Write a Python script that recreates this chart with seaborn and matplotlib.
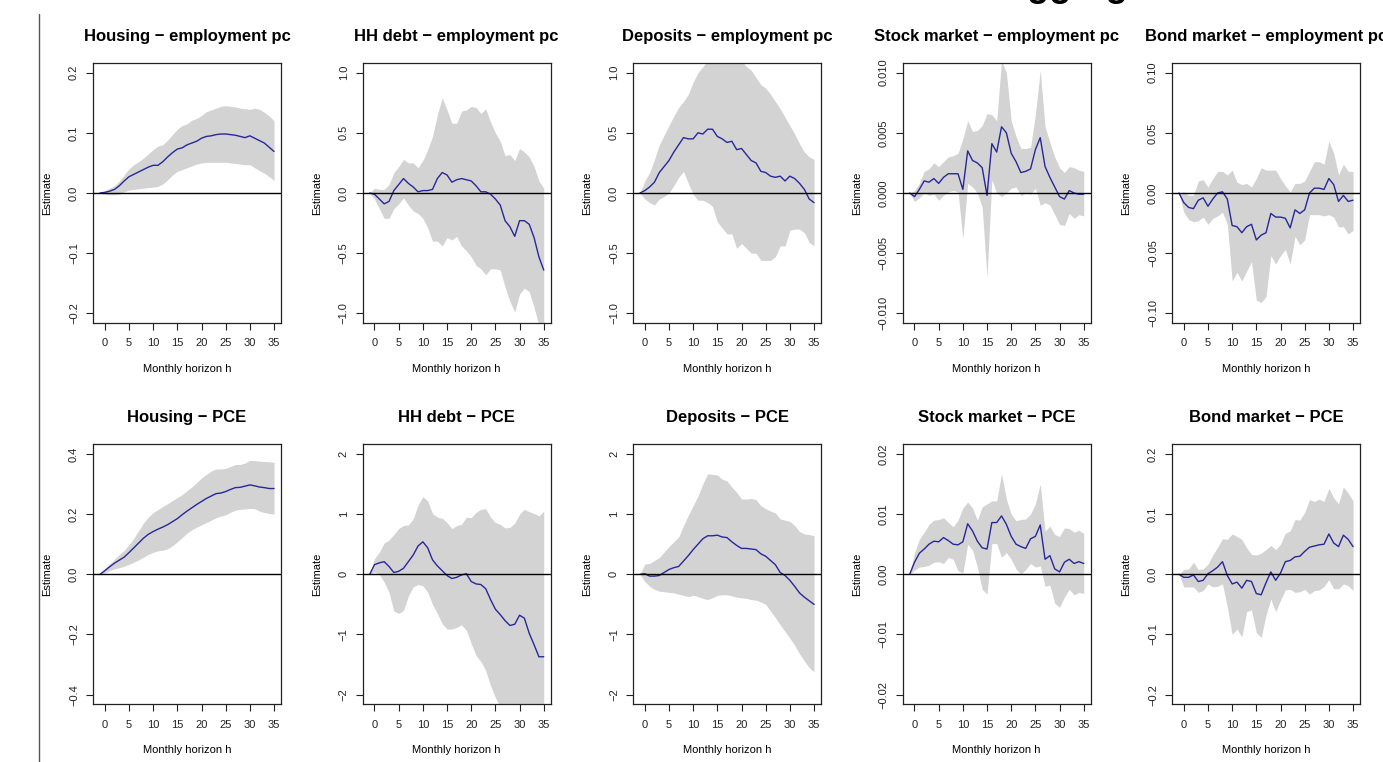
import numpy as np
import matplotlib
matplotlib.use("Agg")
import matplotlib.pyplot as plt
import seaborn as sns
from matplotlib.lines import Line2D

sns.set_style("white")
plt.rcParams['font.family'] = ['Liberation Sans', 'DejaVu Sans']
plt.rcParams['text.color'] = 'black'
plt.rcParams['axes.labelcolor'] = 'black'

# ---------------- data ----------------
horizon = list(range(-1, 36))

# row 1: employment pc
housing_emp_est = [0, 0.001, 0.003, 0.006, 0.012, 0.020, 0.027, 0.031, 0.035, 0.039, 0.043, 0.046, 0.046, 0.052, 0.060, 0.067,
                   0.073, 0.075, 0.080, 0.083, 0.086, 0.091, 0.094, 0.095, 0.097, 0.098, 0.098, 0.097, 0.096, 0.094, 0.092,
                   0.095, 0.091, 0.087, 0.083, 0.076, 0.069]
housing_emp_hi = [0, 0.004, 0.008, 0.012, 0.020, 0.030, 0.040, 0.047, 0.052, 0.058, 0.065, 0.072, 0.078, 0.080, 0.088, 0.097,
                  0.106, 0.112, 0.115, 0.121, 0.124, 0.129, 0.135, 0.138, 0.141, 0.144, 0.145, 0.144, 0.143, 0.141, 0.140,
                  0.139, 0.141, 0.139, 0.134, 0.128, 0.120]
housing_emp_lo = [0, -0.002, -0.003, -0.003, -0.002, 0.002, 0.005, 0.006, 0.007, 0.008, 0.009, 0.010, 0.011, 0.015, 0.022, 0.030,
                  0.036, 0.039, 0.042, 0.045, 0.048, 0.050, 0.051, 0.051, 0.051, 0.051, 0.051, 0.050, 0.049, 0.048, 0.047,
                  0.047, 0.042, 0.037, 0.033, 0.027, 0.021]

hhdebt_emp_est = [0, -0.01, -0.05, -0.09, -0.07, 0.02, 0.07, 0.12, 0.08, 0.05, 0.01, 0.02, 0.02, 0.03, 0.12, 0.17, 0.15,
                  0.09, 0.11, 0.12, 0.11, 0.10, 0.06, 0.01, 0.01, -0.01, -0.05, -0.10, -0.23, -0.28, -0.36, -0.23, -0.23,
                  -0.26, -0.37, -0.53, -0.64]
hhdebt_emp_hi = [0, 0.04, 0.03, 0.03, 0.07, 0.17, 0.22, 0.28, 0.25, 0.25, 0.21, 0.27, 0.36, 0.47, 0.65, 0.79, 0.69, 0.58,
                 0.58, 0.68, 0.69, 0.72, 0.71, 0.66, 0.70, 0.59, 0.50, 0.43, 0.31, 0.32, 0.27, 0.37, 0.34, 0.30, 0.22,
                 0.10, 0.04]
hhdebt_emp_lo = [0, -0.05, -0.13, -0.21, -0.21, -0.13, -0.09, -0.04, -0.10, -0.15, -0.17, -0.21, -0.29, -0.40, -0.40,
                 -0.44, -0.37, -0.39, -0.36, -0.44, -0.48, -0.53, -0.60, -0.63, -0.68, -0.63, -0.63, -0.64, -0.78, -0.90,
                 -0.99, -0.84, -0.79, -0.82, -0.95, -1.10, -1.15]

deposits_emp_est = [0, 0.02, 0.05, 0.09, 0.17, 0.22, 0.27, 0.34, 0.40, 0.46, 0.45, 0.45, 0.50, 0.49, 0.53, 0.53, 0.47,
                    0.45, 0.42, 0.43, 0.36, 0.37, 0.32, 0.27, 0.25, 0.18, 0.17, 0.14, 0.13, 0.14, 0.10, 0.14, 0.12, 0.08,
                    0.03, -0.05, -0.08]
deposits_emp_hi = [0, 0.10, 0.17, 0.28, 0.40, 0.48, 0.56, 0.64, 0.71, 0.76, 0.82, 0.92, 1.00, 1.05, 1.10, 1.12, 1.12,
                   1.12, 1.12, 1.12, 1.12, 1.10, 1.05, 1.02, 0.96, 0.90, 0.87, 0.82, 0.76, 0.70, 0.63, 0.56, 0.49, 0.41,
                   0.34, 0.30, 0.28]
deposits_emp_lo = [0, -0.05, -0.08, -0.10, -0.05, -0.03, 0.00, 0.06, 0.13, 0.18, 0.08, -0.01, -0.06, -0.06, -0.08, -0.11,
                   -0.24, -0.29, -0.34, -0.34, -0.46, -0.42, -0.46, -0.50, -0.50, -0.56, -0.56, -0.56, -0.53, -0.44,
                   -0.44, -0.31, -0.30, -0.30, -0.33, -0.41, -0.44]

stock_emp_est = [0, -0.0003, 0.0003, 0.0010, 0.0009, 0.0012, 0.0008, 0.0013, 0.0016, 0.0016, 0.0016, 0.0003, 0.0035,
                 0.0027, 0.0025, 0.0021, -0.0002, 0.0041, 0.0034, 0.0055, 0.0050, 0.0033, 0.0026, 0.0017, 0.0018, 0.0020,
                 0.0036, 0.0046, 0.0022, 0.0013, 0.0005, -0.0003, -0.0005, 0.0002, 0.0000, -0.0001, -0.0001]
stock_emp_hi = [0, 0.0002, 0.0008, 0.0018, 0.0020, 0.0025, 0.0022, 0.0026, 0.0030, 0.0031, 0.0033, 0.0045, 0.0060,
                0.0051, 0.0052, 0.0056, 0.0066, 0.0065, 0.0060, 0.0110, 0.0100, 0.0060, 0.0047, 0.0037, 0.0037, 0.0038,
                0.0065, 0.0102, 0.0055, 0.0042, 0.0030, 0.0021, 0.0017, 0.0022, 0.0021, 0.0019, 0.0018]
stock_emp_lo = [0, -0.0007, -0.0004, 0.0000, -0.0002, -0.0001, -0.0006, -0.0002, 0.0001, 0.0002, 0.0001, -0.0038,
                0.0008, 0.0005, 0.0000, -0.0012, -0.0070, 0.0011, 0.0000, -0.0003, 0.0000, 0.0004, 0.0005, -0.0002,
                0.0000, -0.0001, 0.0004, -0.0010, -0.0008, -0.0010, -0.0018, -0.0026, -0.0027, -0.0017, -0.0021,
                -0.0018, -0.0019]

bond_emp_est = [0, -0.008, -0.012, -0.013, -0.006, -0.004, -0.011, -0.005, 0.000, 0.001, -0.005, -0.027, -0.028, -0.033,
                -0.028, -0.026, -0.039, -0.035, -0.033, -0.017, -0.020, -0.020, -0.021, -0.029, -0.014, -0.017, -0.014,
                0.000, 0.004, 0.004, 0.003, 0.012, 0.007, -0.007, -0.002, -0.007, -0.006]
bond_emp_hi = [0, 0.001, -0.002, -0.002, 0.010, 0.011, 0.005, 0.012, 0.018, 0.018, 0.015, 0.019, 0.009, 0.007, 0.008,
               0.005, 0.012, 0.021, 0.019, 0.019, 0.019, 0.012, 0.006, 0.001, 0.008, 0.008, 0.010, 0.018, 0.026, 0.026,
               0.024, 0.043, 0.033, 0.015, 0.024, 0.018, 0.018]
bond_emp_lo = [0, -0.016, -0.022, -0.024, -0.023, -0.020, -0.026, -0.021, -0.019, -0.016, -0.026, -0.073, -0.066, -0.073,
               -0.065, -0.057, -0.089, -0.091, -0.086, -0.052, -0.059, -0.052, -0.047, -0.059, -0.036, -0.043, -0.039,
               -0.018, -0.018, -0.018, -0.019, -0.018, -0.020, -0.028, -0.028, -0.034, -0.031]

# row 2: PCE
housing_pce_est = [0, 0.012, 0.025, 0.037, 0.047, 0.057, 0.072, 0.088, 0.104, 0.120, 0.133, 0.142, 0.150, 0.157, 0.165,
                   0.175, 0.185, 0.198, 0.210, 0.221, 0.232, 0.242, 0.252, 0.260, 0.268, 0.270, 0.275, 0.282, 0.288,
                   0.289, 0.293, 0.297, 0.294, 0.290, 0.288, 0.285, 0.285]
housing_pce_hi = [0, 0.020, 0.035, 0.050, 0.066, 0.080, 0.098, 0.120, 0.145, 0.170, 0.190, 0.205, 0.215, 0.225, 0.235,
                  0.245, 0.255, 0.265, 0.278, 0.290, 0.305, 0.320, 0.332, 0.343, 0.350, 0.350, 0.352, 0.358, 0.365,
                  0.365, 0.370, 0.378, 0.378, 0.376, 0.375, 0.374, 0.372]
housing_pce_lo = [0, 0.005, 0.012, 0.018, 0.022, 0.027, 0.033, 0.040, 0.048, 0.057, 0.066, 0.073, 0.078, 0.080, 0.085,
                  0.095, 0.108, 0.122, 0.137, 0.148, 0.157, 0.164, 0.172, 0.180, 0.188, 0.193, 0.198, 0.206, 0.213,
                  0.216, 0.217, 0.219, 0.218, 0.210, 0.205, 0.202, 0.200]

hhdebt_pce_est = [0, 0.16, 0.19, 0.21, 0.13, 0.03, 0.05, 0.10, 0.21, 0.32, 0.47, 0.54, 0.44, 0.24, 0.14, 0.06, -0.02,
                  -0.07, -0.05, -0.01, 0.01, -0.12, -0.16, -0.17, -0.24, -0.42, -0.58, -0.67, -0.77, -0.85, -0.83, -0.68,
                  -0.73, -0.98, -1.17, -1.37, -1.37]
hhdebt_pce_hi = [0, 0.26, 0.37, 0.52, 0.57, 0.66, 0.76, 0.81, 0.82, 0.92, 1.15, 1.29, 1.22, 1.01, 0.95, 0.93, 0.86, 0.76,
                 0.81, 0.83, 0.95, 0.94, 1.03, 1.08, 1.09, 0.95, 0.86, 0.83, 0.77, 0.78, 0.85, 1.00, 1.08, 1.04, 1.01,
                 0.97, 1.05]
hhdebt_pce_lo = [0, 0.04, 0.00, -0.13, -0.30, -0.61, -0.65, -0.60, -0.36, -0.21, -0.17, -0.19, -0.30, -0.50, -0.65, -0.82,
                 -0.91, -0.91, -0.88, -0.84, -0.93, -1.15, -1.35, -1.45, -1.60, -1.85, -2.05, -2.20, -2.30, -2.35, -2.35,
                 -2.35, -2.35, -2.35, -2.35, -2.35, -2.35]

deposits_pce_est = [0, 0.01, -0.03, -0.03, -0.02, 0.03, 0.08, 0.11, 0.13, 0.22, 0.31, 0.41, 0.50, 0.59, 0.64, 0.64, 0.65,
                    0.62, 0.61, 0.54, 0.48, 0.43, 0.43, 0.42, 0.41, 0.34, 0.30, 0.23, 0.16, 0.03, -0.02, -0.10, -0.20,
                    -0.31, -0.38, -0.44, -0.50]
deposits_pce_hi = [0, 0.17, 0.18, 0.23, 0.28, 0.37, 0.46, 0.54, 0.62, 0.81, 0.98, 1.14, 1.30, 1.50, 1.67, 1.66, 1.65,
                   1.58, 1.55, 1.45, 1.36, 1.25, 1.25, 1.26, 1.24, 1.14, 1.09, 1.05, 1.02, 0.92, 0.90, 0.88, 0.81, 0.71,
                   0.67, 0.66, 0.64]
deposits_pce_lo = [0, -0.12, -0.20, -0.25, -0.28, -0.29, -0.30, -0.31, -0.33, -0.35, -0.37, -0.35, -0.37, -0.40, -0.42,
                   -0.39, -0.35, -0.34, -0.34, -0.36, -0.38, -0.39, -0.40, -0.42, -0.43, -0.46, -0.50, -0.61, -0.72,
                   -0.84, -0.95, -1.06, -1.18, -1.32, -1.44, -1.55, -1.62]

stock_pce_est = [0, 0.0020, 0.0035, 0.0042, 0.0050, 0.0055, 0.0054, 0.0061, 0.0056, 0.0050, 0.0049, 0.0054, 0.0084,
                 0.0072, 0.0055, 0.0044, 0.0042, 0.0086, 0.0086, 0.0097, 0.0083, 0.0063, 0.0050, 0.0046, 0.0043, 0.0059,
                 0.0063, 0.0082, 0.0025, 0.0031, 0.0009, 0.0004, 0.0020, 0.0025, 0.0018, 0.0021, 0.0018]
stock_pce_hi = [0, 0.0036, 0.0058, 0.0070, 0.0083, 0.0090, 0.0091, 0.0094, 0.0086, 0.0079, 0.0090, 0.0110, 0.0120,
                0.0110, 0.0090, 0.0112, 0.0117, 0.0122, 0.0122, 0.0167, 0.0125, 0.0100, 0.0089, 0.0091, 0.0092, 0.0100,
                0.0117, 0.0150, 0.0072, 0.0080, 0.0066, 0.0063, 0.0077, 0.0076, 0.0070, 0.0073, 0.0068]
stock_pce_lo = [0, 0.0007, 0.0012, 0.0013, 0.0015, 0.0020, 0.0021, 0.0018, 0.0028, 0.0025, 0.0006, 0.0002, 0.0050,
                0.0040, 0.0012, -0.0025, -0.0033, 0.0051, 0.0051, 0.0028, 0.0036, 0.0025, 0.0009, 0.0000, 0.0008,
                0.0018, 0.0012, 0.0014, -0.0020, -0.0018, -0.0048, -0.0055, -0.0038, -0.0025, -0.0034, -0.0030, -0.0032]

bond_pce_est = [0, -0.005, -0.005, -0.001, -0.012, -0.010, 0.001, 0.006, 0.012, 0.021, -0.002, -0.016, -0.013, -0.023,
                -0.010, -0.012, -0.032, -0.034, -0.014, 0.004, -0.010, 0.002, 0.021, 0.023, 0.029, 0.030, 0.038, 0.045,
                0.047, 0.049, 0.050, 0.067, 0.052, 0.046, 0.065, 0.058, 0.046]
bond_pce_hi = [0, 0.008, 0.009, 0.020, 0.008, 0.009, 0.017, 0.032, 0.045, 0.059, 0.058, 0.067, 0.063, 0.058, 0.044,
               0.033, 0.032, 0.035, 0.041, 0.048, 0.041, 0.050, 0.068, 0.072, 0.091, 0.090, 0.103, 0.124, 0.121, 0.125,
               0.121, 0.143, 0.127, 0.117, 0.145, 0.135, 0.122]
bond_pce_lo = [0, -0.021, -0.021, -0.021, -0.030, -0.027, -0.016, -0.021, -0.020, -0.016, -0.054, -0.100, -0.091, -0.104,
               -0.062, -0.059, -0.097, -0.105, -0.068, -0.041, -0.062, -0.043, -0.026, -0.025, -0.030, -0.029, -0.025,
               -0.033, -0.027, -0.026, -0.020, -0.009, -0.024, -0.024, -0.016, -0.019, -0.027]

titles = ["Housing \u2212 employment pc", "HH debt \u2212 employment pc", "Deposits \u2212 employment pc",
          "Stock market \u2212 employment pc", "Bond market \u2212 employment pc",
          "Housing \u2212 PCE", "HH debt \u2212 PCE", "Deposits \u2212 PCE",
          "Stock market \u2212 PCE", "Bond market \u2212 PCE"]
estimates = [housing_emp_est, hhdebt_emp_est, deposits_emp_est, stock_emp_est, bond_emp_est,
             housing_pce_est, hhdebt_pce_est, deposits_pce_est, stock_pce_est, bond_pce_est]
uppers = [housing_emp_hi, hhdebt_emp_hi, deposits_emp_hi, stock_emp_hi, bond_emp_hi,
          housing_pce_hi, hhdebt_pce_hi, deposits_pce_hi, stock_pce_hi, bond_pce_hi]
lowers = [housing_emp_lo, hhdebt_emp_lo, deposits_emp_lo, stock_emp_lo, bond_emp_lo,
          housing_pce_lo, hhdebt_pce_lo, deposits_pce_lo, stock_pce_lo, bond_pce_lo]

# y-axis tick step and decimals, symmetric range of 2 steps each side
ytick_steps = [0.1, 0.5, 0.5, 0.005, 0.05, 0.2, 1, 1, 0.01, 0.1]
ytick_decimals = [1, 1, 1, 3, 2, 1, 0, 0, 2, 1]
xticks = [0, 5, 10, 15, 20, 25, 30, 35]

# ---------------- figure ----------------
W, H = 1383, 762
fig = plt.figure(figsize=(W / 100, H / 100), dpi=100)

lefts = [93, 362.7, 633, 902.7, 1172]
tops = [63, 444.3]
aw, ah = 188, 260

band_color = '#d3d3d3'
line_color = '#27279a'

for i in range(10):
    r, c = divmod(i, 5)
    ax = fig.add_axes([lefts[c] / W, 1 - (tops[r] + ah) / H, aw / W, ah / H])
    ax.fill_between(horizon, lowers[i], uppers[i], color=band_color, lw=0, zorder=1)
    sns.lineplot(x=horizon, y=estimates[i], ax=ax, color=line_color, lw=1.0, zorder=3)
    ax.axhline(0, color='black', lw=1.0, zorder=4)

    step = ytick_steps[i]
    yt = [k * step for k in range(-2, 3)]
    ylab = [f"{v:.{ytick_decimals[i]}f}".replace('-', '\u2212') for v in yt]
    ylab[2] = f"{0:.{ytick_decimals[i]}f}"
    ax.set_yticks(yt)
    ax.set_yticklabels(ylab, rotation=90, va='center', fontsize=8)
    ax.set_ylim(-2.16 * step, 2.16 * step)
    ax.set_xlim(-2.44, 36.44)
    ax.set_xticks(xticks)
    ax.set_xticklabels([str(v) for v in xticks], fontsize=8)

    ax.tick_params(axis='both', direction='out', length=5, width=0.8, color='#222222',
                   labelcolor='#222222', bottom=True, left=True)
    ax.tick_params(axis='y', pad=5)
    ax.tick_params(axis='x', pad=6)
    for sp in ax.spines.values():
        sp.set_color('#222222')
        sp.set_linewidth(0.9)

    ax.set_title(titles[i], fontsize=12, fontweight='bold', pad=16, color='black')
    ax.set_xlabel("Monthly horizon h", fontsize=8)
    ax.set_ylabel("Estimate", fontsize=8)
    ax.xaxis.set_label_coords(0.5, -46 / ah)
    ax.yaxis.set_label_coords(-46 / aw, 0.5)
    ax.xaxis.label.set_va('center')
    ax.yaxis.label.set_va('center')

# left border line and the cut-off heading at the top
fig.add_artist(Line2D([38.5 / W, 38.5 / W], [0, 1 - 14 / H], color='#555555', lw=1.0))
fig.text(1001 / W, 1 + 4 / H, "Aggregate", fontsize=26, fontweight='bold', ha='left', va='baseline')

plt.savefig('out.png', dpi=100)
